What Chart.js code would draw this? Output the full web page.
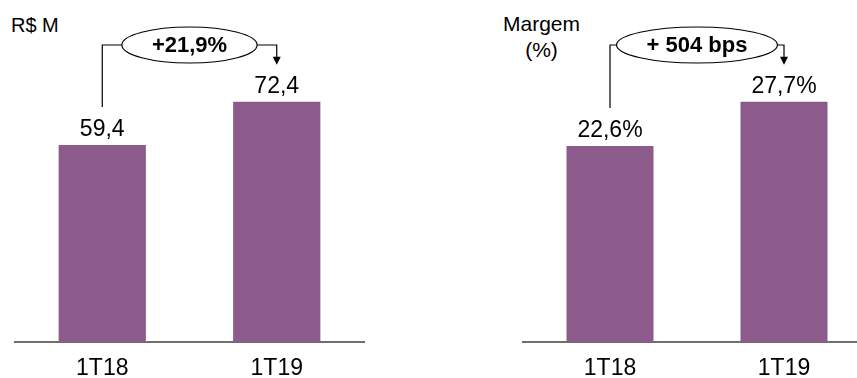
<!DOCTYPE html>
<html>
<head>
<meta charset="utf-8">
<script src="https://cdn.jsdelivr.net/npm/chart.js@4"></script>
<style>
  html, body { margin: 0; padding: 0; background: #fff; overflow: hidden; width: 857px; height: 378px; }
  .panel { position: absolute; top: 0; height: 395px; }
  #left { left: 0; width: 428px; }
  #right { left: 428px; width: 443px; }
  .unit { position: absolute; font-family: Arial, 'Liberation Sans', sans-serif; color: #000; text-align: center; }
</style>
</head>
<body>
<div class="unit" style="left:11px; top:15px; font-size:20px; line-height:20px;">R$ M</div>
<div class="unit" style="left:503px; top:11px; font-size:21px; line-height:26px;">Margem<br>(%)</div>
<div class="panel" id="left"><canvas id="chartLeft"></canvas></div>
<div class="panel" id="right"><canvas id="chartRight"></canvas></div>
<script>
// data
const categories = ['1T18', '1T19'];
const revenue = [59.4, 72.4];
const margin = [22.6, 27.7];
const revenueGrowth = '+21,9%';
const marginGrowth = '+ 504 bps';

const purple = '#8c5b8b';
const fontFamily = 'Arial, "Liberation Sans", sans-serif';

// value labels + the "growth" ellipse with its connector arrow
const growthArrow = {
  id: 'growthArrow',
  afterDatasetsDraw(chart, args, opts) {
    const ctx = chart.ctx;
    const bars = chart.getDatasetMeta(0).data;
    const values = chart.data.datasets[0].data;
    const a = bars[0], b = bars[1];

    ctx.save();
    ctx.fillStyle = '#000';
    ctx.textAlign = 'center';
    ctx.textBaseline = 'alphabetic';
    ctx.font = '23px ' + fontFamily;
    bars.forEach((bar, i) => ctx.fillText(opts.format(values[i]), bar.x, bar.y - 9));

    const cx = (a.x + b.x) / 2;
    const cy = opts.y;
    ctx.font = 'bold 22px ' + fontFamily;
    const rx = ctx.measureText(opts.text).width / 2 + 30;
    const ry = 18;

    ctx.strokeStyle = '#000';
    ctx.lineWidth = 1.2;
    ctx.beginPath();
    ctx.moveTo(a.x, a.y - 38);
    ctx.lineTo(a.x, cy);
    ctx.lineTo(cx - rx, cy);
    ctx.stroke();

    ctx.beginPath();
    ctx.moveTo(cx + rx, cy);
    ctx.lineTo(b.x, cy);
    ctx.lineTo(b.x, b.y - 44);
    ctx.stroke();

    ctx.beginPath();
    ctx.moveTo(b.x - 4, b.y - 45);
    ctx.lineTo(b.x + 4, b.y - 45);
    ctx.lineTo(b.x, b.y - 37);
    ctx.closePath();
    ctx.fill();

    ctx.beginPath();
    ctx.ellipse(cx, cy, rx, ry, 0, 0, Math.PI * 2);
    ctx.fillStyle = '#fff';
    ctx.fill();
    ctx.stroke();

    ctx.fillStyle = '#000';
    ctx.textBaseline = 'middle';
    ctx.fillText(opts.text, cx, cy + 1);
    ctx.restore();
  }
};

function makeChart(id, values, yMax, padLeft, padRight, text, format) {
  return new Chart(document.getElementById(id), {
    type: 'bar',
    data: {
      labels: categories,
      datasets: [{
        data: values,
        backgroundColor: purple,
        barPercentage: 0.5,
        categoryPercentage: 1
      }]
    },
    options: {
      responsive: true,
      maintainAspectRatio: false,
      animation: false,
      layout: { padding: { left: padLeft, right: padRight, top: 0, bottom: 1 } },
      plugins: {
        legend: { display: false },
        tooltip: { enabled: false },
        growthArrow: { text: text, y: 45, format: format }
      },
      scales: {
        x: {
          grid: { display: false, drawTicks: false },
          border: { display: true, color: '#6f6f6f', width: 2 },
          ticks: { color: '#000', padding: 12, font: { family: fontFamily, size: 23 } }
        },
        y: { display: false, min: 0, max: yMax }
      }
    },
    plugins: [growthArrow]
  });
}

makeChart('chartLeft', revenue, 103, 15, 64, revenueGrowth,
  v => v.toFixed(1).replace('.', ','));
makeChart('chartRight', margin, 39.4, 95, 0, marginGrowth,
  v => v.toFixed(1).replace('.', ',') + '%');
</script>
</body>
</html>
